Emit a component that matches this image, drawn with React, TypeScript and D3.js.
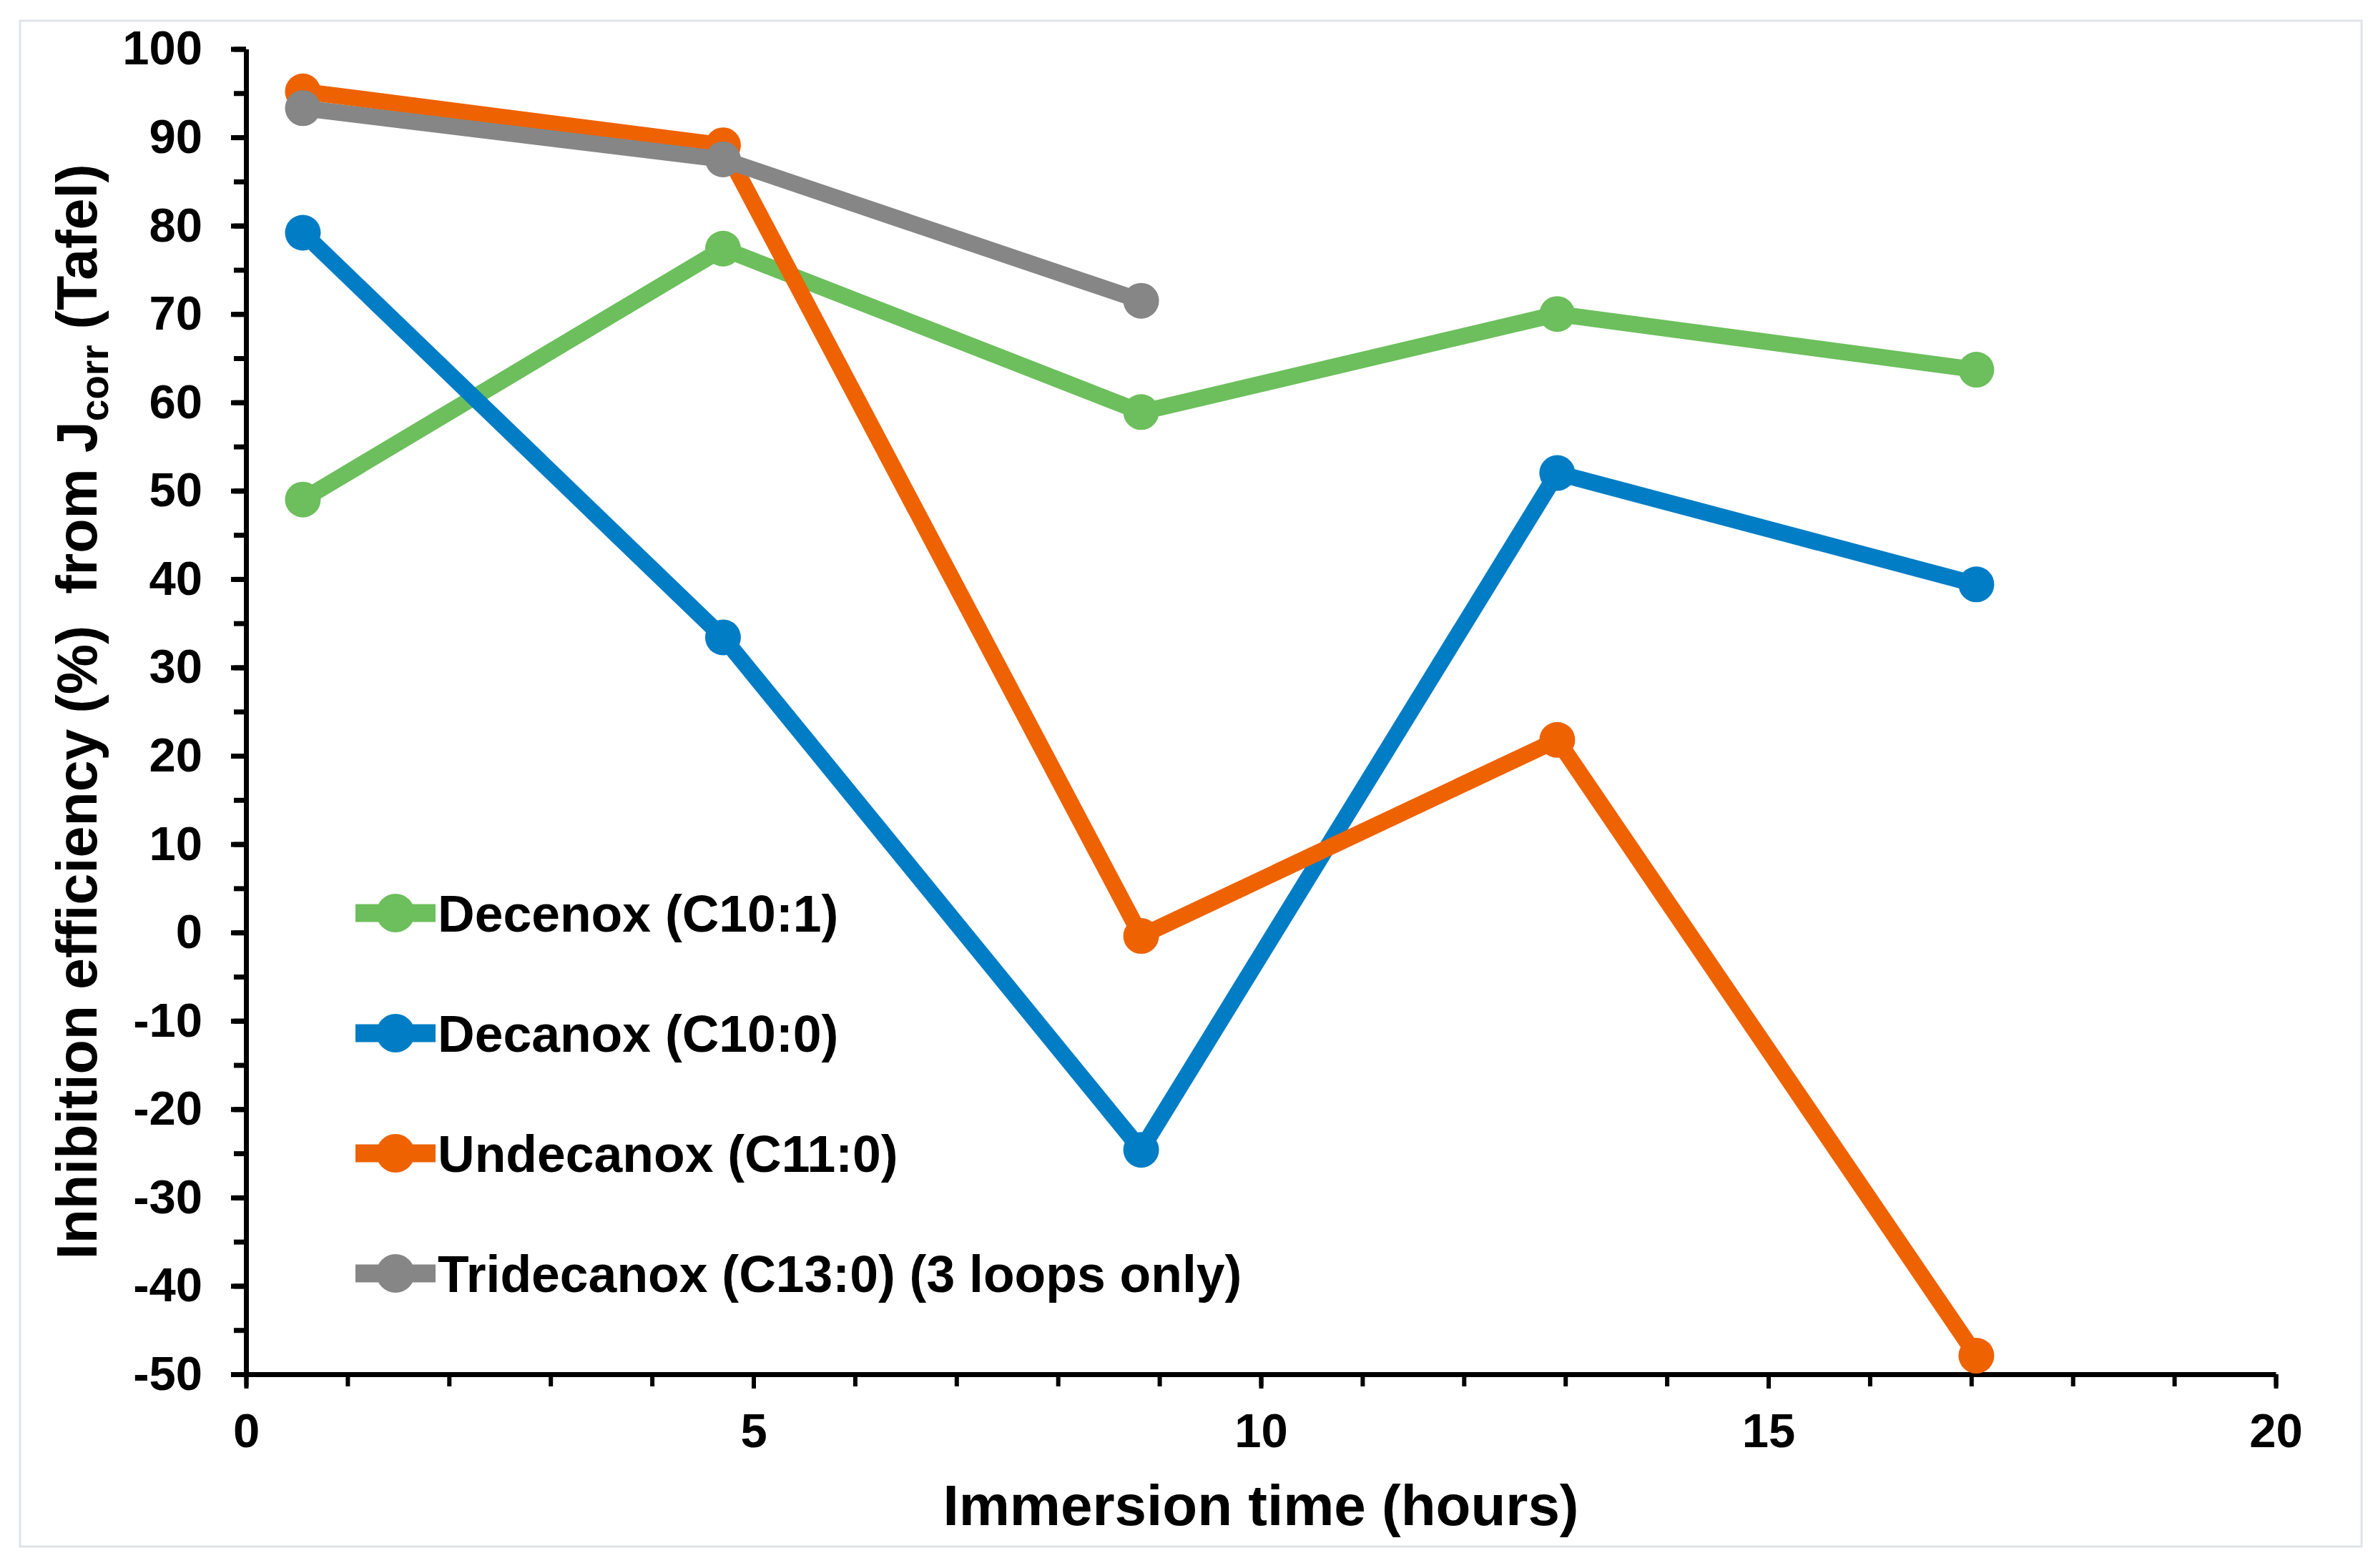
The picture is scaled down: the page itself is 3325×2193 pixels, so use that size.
import * as d3 from "d3";
import { useEffect, useRef } from "react";

const hours = [0.56, 4.7, 8.82, 12.92, 17.05];

const seriesNames = [
  "Decenox (C10:1)",
  "Decanox (C10:0)",
  "Undecanox (C11:0)",
  "Tridecanox (C13:0) (3 loops only)",
];
const seriesColors = ["#6CBF5C", "#007DC5", "#EE6202", "#868686"];

const decenox = [49.0, 77.4, 58.9, 70.0, 63.7];
const decanox = [79.2, 33.4, -24.6, 52.0, 39.4];
const undecanox = [95.2, 89.1, -0.4, 21.8, -47.9];
const tridecanox = [93.3, 87.5, 71.5];

const xTicks = [0, 5, 10, 15, 20];
const yTicks = [100, 90, 80, 70, 60, 50, 40, 30, 20, 10, 0, -10, -20, -30, -40, -50];

const W = 3325;
const H = 2193;
const FONT = "'Liberation Sans', Arial, sans-serif";

export default function App() {
  const ref = useRef<SVGSVGElement | null>(null);

  useEffect(() => {
    if (!ref.current) return;
    const svg = d3.select(ref.current);
    svg.selectAll("*").remove();

    svg.attr("width", W).attr("height", H);

    // frame around the figure
    svg
      .append("rect")
      .attr("x", 28)
      .attr("y", 29)
      .attr("width", 3302 - 28)
      .attr("height", 2163 - 29)
      .attr("fill", "#fff")
      .attr("stroke", "#dfe4ea")
      .attr("stroke-width", 3);

    const x = d3.scaleLinear().domain([0, 20]).range([344, 3182]);
    const y = d3.scaleLinear().domain([-50, 100]).range([1922, 68.5]);

    // minor ticks
    svg
      .append("g")
      .attr("transform", `translate(0,${y(-50)})`)
      .call(d3.axisBottom(x).tickValues(d3.range(0, 21, 1)).tickSize(17).tickFormat(() => ""))
      .call((g) => g.select(".domain").remove())
      .call((g) => g.selectAll("line").attr("stroke", "#000").attr("stroke-width", 6));
    svg
      .append("g")
      .attr("transform", `translate(${x(0)},0)`)
      .call(d3.axisLeft(y).tickValues(d3.range(-50, 101, 5)).tickSize(17).tickFormat(() => ""))
      .call((g) => g.select(".domain").remove())
      .call((g) => g.selectAll("line").attr("stroke", "#000").attr("stroke-width", 7));

    // major axes
    svg
      .append("g")
      .attr("transform", `translate(0,${y(-50)})`)
      .call(
        d3.axisBottom(x).tickValues(xTicks).tickSize(20).tickSizeOuter(0).tickPadding(34).tickFormat((d) => String(d))
      )
      .call((g) => g.select(".domain").attr("stroke", "#000").attr("stroke-width", 7))
      .call((g) => g.selectAll("line").attr("stroke", "#000").attr("stroke-width", 6))
      .call((g) =>
        g.selectAll("text").attr("font-family", FONT).attr("font-size", 67).attr("fill", "#000")
      );

    svg
      .append("g")
      .attr("transform", `translate(${x(0)},0)`)
      .call(
        d3.axisLeft(y).tickValues(yTicks).tickSize(21).tickSizeOuter(0).tickPadding(40).tickFormat((d) => String(d))
      )
      .call((g) => g.select(".domain").attr("stroke", "#000").attr("stroke-width", 7))
      .call((g) => g.selectAll("line").attr("stroke", "#000").attr("stroke-width", 7))
      .call((g) =>
        g.selectAll("text").attr("font-family", FONT).attr("font-size", 67).attr("fill", "#000")
      );
    svg.selectAll("g.tick text").attr("font-weight", "bold");

    // axis titles
    svg
      .append("text")
      .attr("x", (x(0) + x(20)) / 2)
      .attr("y", 2133)
      .attr("text-anchor", "middle")
      .attr("font-family", FONT)
      .attr("font-weight", "bold")
      .attr("font-size", 80)
      .text("Immersion time (hours)");

    const yt = svg
      .append("text")
      .attr("transform", `translate(135,${(y(-50) + y(100)) / 2}) rotate(-90)`)
      .attr("text-anchor", "middle")
      .attr("font-family", FONT)
      .attr("font-weight", "bold")
      .attr("font-size", 79)
      .style("white-space", "pre");
    yt.append("tspan").text("Inhibition efficiency (%)  from J");
    yt.append("tspan").attr("font-size", 55).attr("dy", 16).text("corr");
    yt.append("tspan").attr("dy", -16).text(" (Tafel)");

    // series
    const all = [decenox, decanox, undecanox, tridecanox];
    const line = d3
      .line<number>()
      .x((_, i) => x(hours[i]))
      .y((d) => y(d));

    all.forEach((vals, s) => {
      const g = svg.append("g");
      g.append("path")
        .attr("d", line(vals))
        .attr("fill", "none")
        .attr("stroke", seriesColors[s])
        .attr("stroke-width", 23)
        .attr("stroke-linejoin", "round");
      g.selectAll("circle")
        .data(vals)
        .enter()
        .append("circle")
        .attr("cx", (_, i) => x(hours[i]))
        .attr("cy", (d) => y(d))
        .attr("r", 25)
        .attr("fill", seriesColors[s]);
    });

    // legend
    const legY = d3.scalePoint<string>().domain(seriesNames).range([1277, 1781]);
    seriesNames.forEach((name, s) => {
      const ly = legY(name)!;
      const g = svg.append("g");
      g.append("line")
        .attr("x1", 497)
        .attr("x2", 609)
        .attr("y1", ly)
        .attr("y2", ly)
        .attr("stroke", seriesColors[s])
        .attr("stroke-width", 25);
      g.append("circle").attr("cx", 553).attr("cy", ly).attr("r", 27).attr("fill", seriesColors[s]);
      g.append("text")
        .attr("x", 612)
        .attr("y", ly)
        .attr("dy", "0.36em")
        .attr("font-family", FONT)
        .attr("font-weight", "bold")
        .attr("font-size", 71.5)
        .text(name);
    });
  }, []);

  return <svg ref={ref} style={{ position: "absolute", left: 0, top: 0, display: "block" }} />;
}
